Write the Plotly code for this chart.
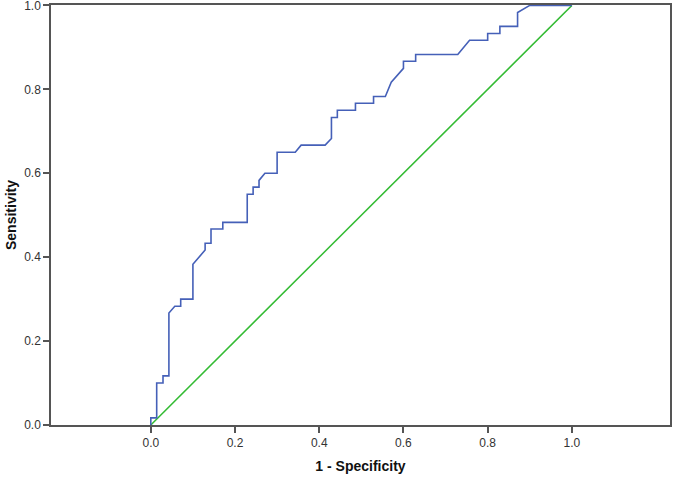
import plotly.graph_objects as go

# ROC curve (1 - specificity, sensitivity)
fpr = [0, 0, 0.014, 0.014, 0.029, 0.029, 0.043, 0.043, 0.057, 0.071, 0.071, 0.1, 0.1,
       0.129, 0.129, 0.143, 0.143, 0.171, 0.171, 0.229, 0.229, 0.243, 0.243, 0.257, 0.257,
       0.271, 0.3, 0.3, 0.343, 0.357, 0.414, 0.429, 0.429, 0.443, 0.443, 0.486, 0.486,
       0.529, 0.529, 0.557, 0.571, 0.6, 0.6, 0.629, 0.629, 0.729, 0.757, 0.8, 0.8,
       0.829, 0.829, 0.871, 0.871, 0.9, 1.0]
tpr = [0, 0.017, 0.017, 0.1, 0.1, 0.117, 0.117, 0.267, 0.283, 0.283, 0.3, 0.3, 0.383,
       0.417, 0.433, 0.433, 0.467, 0.467, 0.483, 0.483, 0.55, 0.55, 0.567, 0.567, 0.583,
       0.6, 0.6, 0.65, 0.65, 0.667, 0.667, 0.683, 0.733, 0.733, 0.75, 0.75, 0.767,
       0.767, 0.783, 0.783, 0.817, 0.85, 0.867, 0.867, 0.883, 0.883, 0.917, 0.917, 0.933,
       0.933, 0.95, 0.95, 0.983, 1.0, 1.0]

# Reference line
ref_x = [0, 1]
ref_y = [0, 1]

tick_vals = [0, 0.2, 0.4, 0.6, 0.8, 1.0]
tick_text = ["0.0", "0.2", "0.4", "0.6", "0.8", "1.0"]

fig = go.Figure()
fig.add_trace(go.Scatter(x=ref_x, y=ref_y, mode="lines",
                         line=dict(color="#33bb33", width=1.5), showlegend=False,
                         hoverinfo="skip"))
fig.add_trace(go.Scatter(x=fpr, y=tpr, mode="lines",
                         line=dict(color="#4560b8", width=1.6), showlegend=False))

axis_common = dict(
    showgrid=False, zeroline=False, showline=True, mirror=True,
    linecolor="#555555", linewidth=1.5, automargin=False,
    ticks="outside", ticklen=6, tickwidth=1.5, tickcolor="#555555",
    tickvals=tick_vals, ticktext=tick_text, ticklabeloverflow="allow",
    tickfont=dict(family="Liberation Sans, Arial, sans-serif", size=12, color="#333333"),
)

fig.update_layout(
    width=675, height=480,
    margin=dict(l=51, r=5, t=5, b=55),
    paper_bgcolor="white", plot_bgcolor="white",
    xaxis=dict(range=[-0.237, 1.233],
               title=dict(text="<b>1 - Specificity</b>", standoff=12,
                          font=dict(family="Liberation Sans, Arial, sans-serif", size=14, color="#111111")),
               **axis_common),
    yaxis=dict(range=[0, 1.001],
               title=dict(text="<b>Sensitivity</b>", standoff=4,
                          font=dict(family="Liberation Sans, Arial, sans-serif", size=14, color="#111111")),
               **axis_common),
)

fig.write_html("out.html", config={"displayModeBar": False},
               post_script="document.body.style.margin='0';")
